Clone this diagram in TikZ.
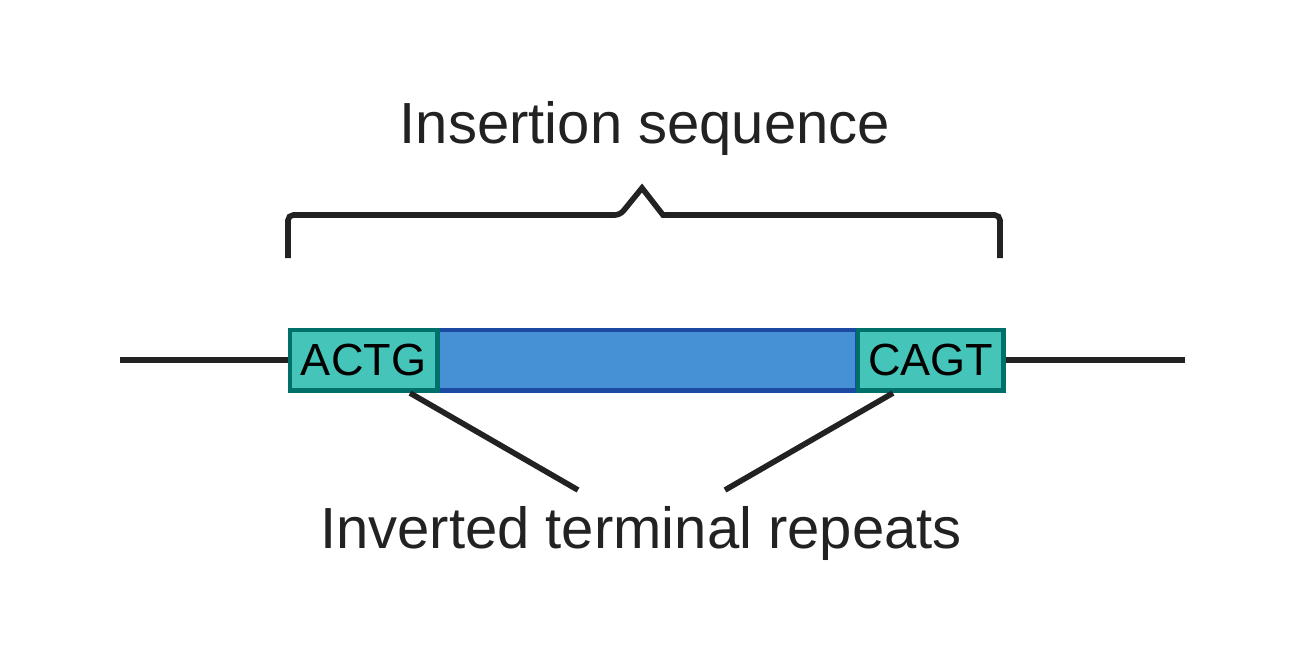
\documentclass[tikz,border=0pt]{standalone}
\usepackage{fontspec}
\setmainfont{Liberation Sans}
\definecolor{tealfill}{HTML}{45C4B9}
\definecolor{tealline}{HTML}{00706A}
\definecolor{bluefill}{HTML}{4690D5}
\definecolor{blueline}{HTML}{1C4AA0}
\definecolor{ink}{HTML}{222222}

\begin{document}
\begin{tikzpicture}[x=0.01cm, y=-0.01cm,
    itr/.style={draw=tealline, fill=tealfill, line width=1.4pt, minimum height=0.6cm, inner sep=0pt, font=\fontsize{12.8}{14}\selectfont},
    core/.style={draw=blueline, fill=bluefill, line width=1.4pt, minimum height=0.6cm, inner sep=0pt},
    dna/.style={draw=ink, line width=1.6pt},
    lbl/.style={text=ink, anchor=base, font=\fontsize{16.5}{20}\selectfont}]
            \useasboundingbox (0,0) rectangle (1316,644);
            \node[core, minimum width=4.21cm] (tp) at (647,360) {};
            \node[itr, minimum width=1.47cm] (irl) at (363.5,360) {ACTG};
            \node[itr, minimum width=1.45cm] (irr) at (930.5,360) {CAGT};
            \node[lbl] (is) at (645,143) {Insertion sequence};
            \node[lbl] (rep) at (641,548) {Inverted terminal repeats};
            \coordinate (dl) at (120,360);
            \coordinate (dr) at (1185,360);
            \coordinate (pl) at (410,393);
            \coordinate (pr) at (893,393);
            \coordinate (ql) at (578,490);
            \coordinate (qr) at (725,490);
            \draw[dna] (dl) -- (irl);
            \draw[dna] (irr) -- (dr);
            \draw[dna] (pl) -- (ql);
            \draw[dna] (pr) -- (qr);
            \draw[dna, rounded corners=1.5pt] (288,258) |- (620,215) [sharp corners] -- (642,188) -- (663,215) [rounded corners=1.5pt] -| (1000,258);
        \end{tikzpicture}
\end{document}
